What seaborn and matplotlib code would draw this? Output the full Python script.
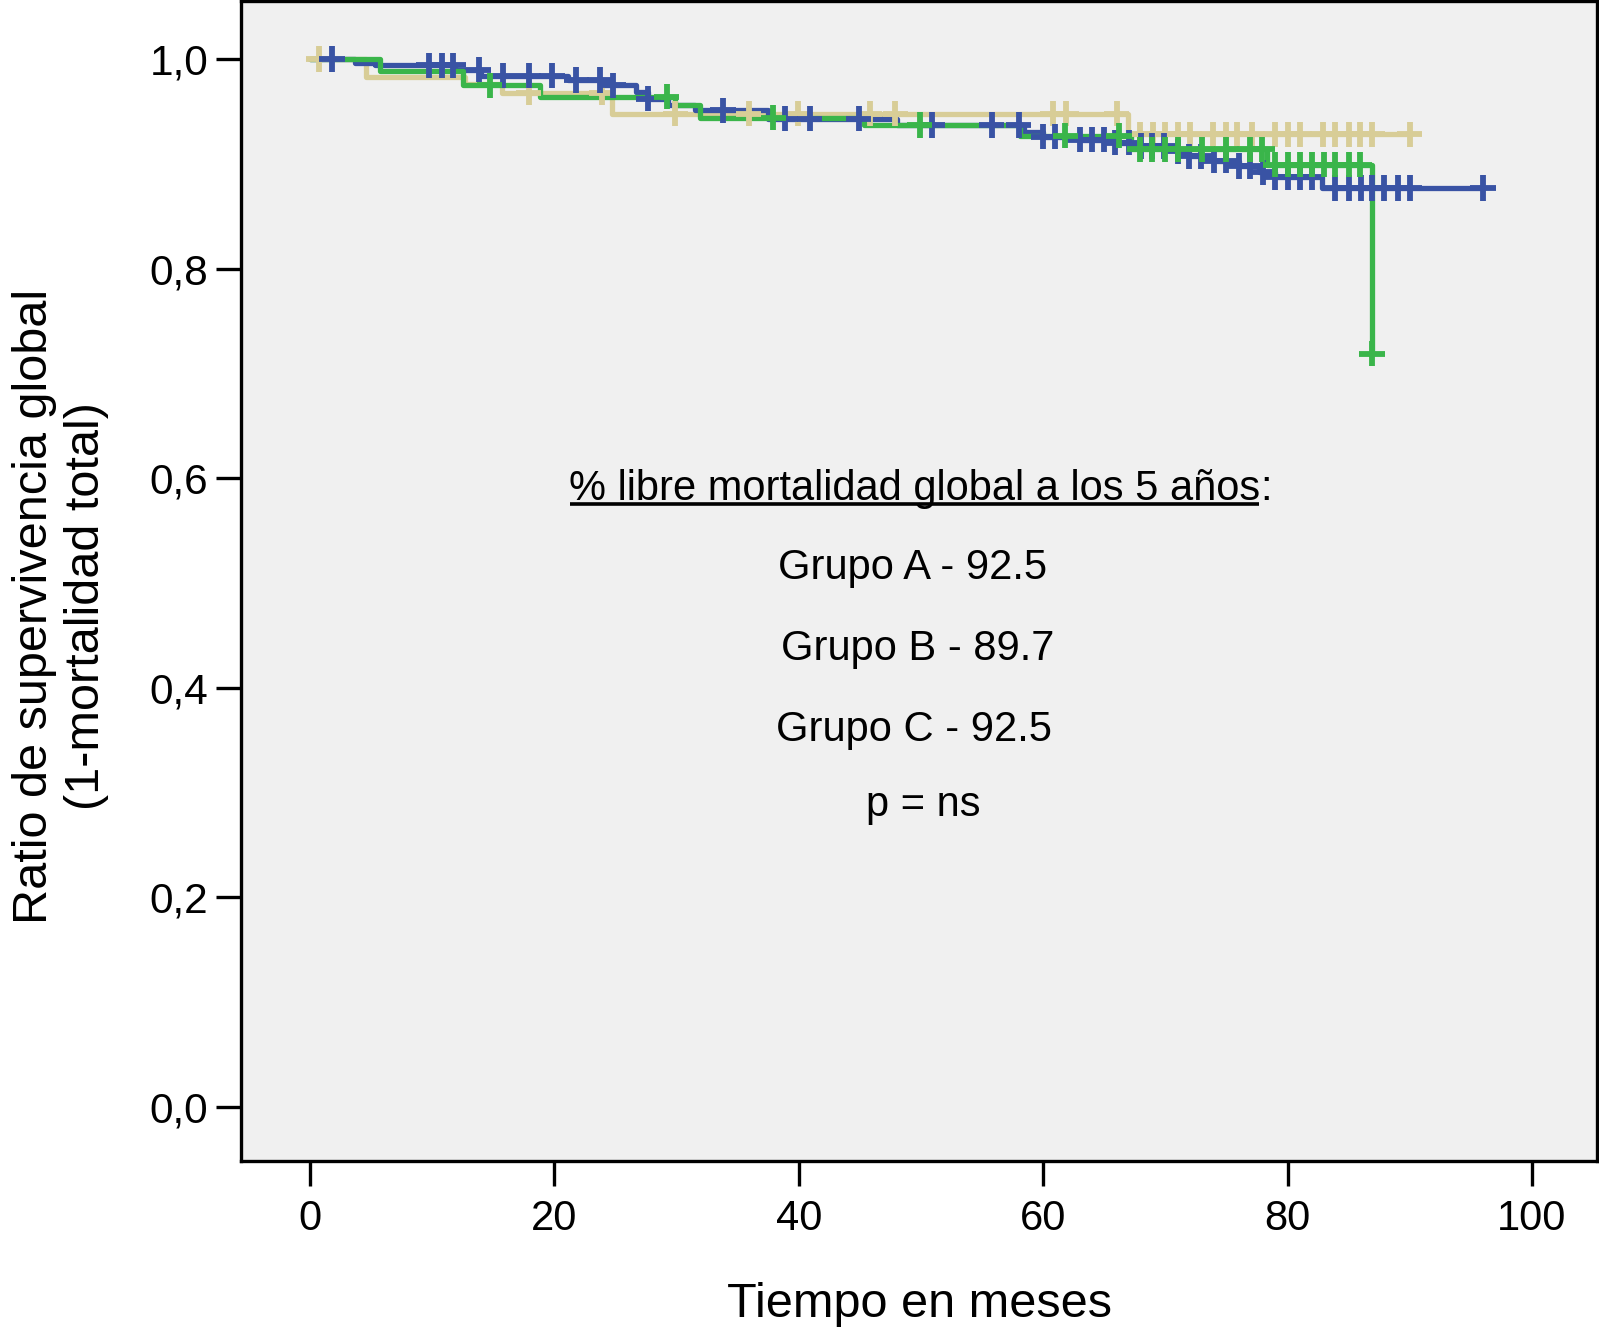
import numpy as np
import pandas as pd
import matplotlib
matplotlib.use("Agg")
import matplotlib.pyplot as plt
import seaborn as sns

# ---------------- data ----------------
groups = ["Grupo A", "Grupo B", "Grupo C"]
draw_order = ["Grupo C", "Grupo A", "Grupo B"]
colors = {"Grupo A": "#3953a4", "Grupo B": "#3ab54a", "Grupo C": "#d8cd97"}

# Grupo A (blue): event times (months) and survival after each step
a_times = [0, 3.7, 5.3, 11.9, 14.0, 21.1, 24.1, 26.7, 27.7, 29.3, 31.5, 37.5,
           48.0, 58.4, 60.0, 63.0, 65.9, 67.9, 70.9, 71.9, 73.9, 76.0, 77.7,
           79.0, 82.8]
a_surv = [1.0, 0.996, 0.994, 0.990, 0.984, 0.980, 0.975, 0.969, 0.962, 0.956,
          0.951, 0.943, 0.937, 0.930, 0.926, 0.923, 0.920, 0.917, 0.912, 0.907,
          0.903, 0.898, 0.892, 0.887, 0.877]
a_cens = [1.8, 9.7, 10.8, 11.7, 13.8, 15.8, 17.9, 19.8, 21.8, 23.7, 24.8, 27.7,
          33.8, 38.9, 40.9, 44.9, 50.9, 55.8, 58.0, 60.0, 61.0, 63.0, 64.0,
          65.0, 65.9, 67.0, 68.0, 68.9, 69.9, 71.0, 71.9, 72.9, 74.0, 75.0,
          76.0, 76.9, 78.0, 79.0, 80.0, 81.0, 82.0, 83.9, 85.0, 86.0, 86.9,
          87.9, 89.0, 90.0, 96.0]

# Grupo B (green)
b_times = [0, 5.7, 12.5, 18.8, 29.9, 31.9, 45.3, 58.1, 67.2, 78.3, 86.9]
b_surv = [1.0, 0.989, 0.975, 0.964, 0.956, 0.944, 0.937, 0.927, 0.914, 0.899,
          0.719]
b_cens = [14.7, 29.2, 37.9, 49.9, 61.8, 66.2, 67.9, 68.9, 70.0, 71.0, 73.0,
          75.0, 76.9, 77.9, 79.0, 80.0, 81.0, 82.0, 83.0, 83.9, 85.0, 85.9, 86.9]

# Grupo C (tan)
c_times = [0, 4.6, 12.7, 15.7, 24.7, 66.9]
c_surv = [1.0, 0.983, 0.976, 0.968, 0.948, 0.928]
c_cens = [0.7, 17.9, 23.9, 29.9, 35.9, 39.9, 45.8, 47.9, 60.8, 61.9, 66.0,
          67.9, 69.0, 70.0, 71.0, 72.0, 73.9, 75.0, 75.9, 77.1, 79.0, 80.0,
          81.0, 82.9, 83.9, 85.0, 85.9, 86.9, 90.0]

x_ticks = [0, 20, 40, 60, 80, 100]
x_tick_labels = ["0", "20", "40", "60", "80", "100"]
y_ticks = [0.0, 0.2, 0.4, 0.6, 0.8, 1.0]
y_tick_labels = ["0,0", "0,2", "0,4", "0,6", "0,8", "1,0"]

x_label = "Tiempo en meses"
y_label = "Ratio de supervivencia global\n(1-mortalidad total)"
ann_title = "% libre mortalidad global a los 5 años"
ann_lines = ["Grupo A - 92.5", "Grupo B - 89.7", "Grupo C - 92.5", "p = ns"]


def km_frames(name, times, surv, cens):
    t = list(times)
    s = list(surv)
    end = max(max(times), max(cens))
    if end > t[-1]:
        t.append(end)
        s.append(s[-1])
    lines = pd.DataFrame({"t": t, "s": s, "grupo": name})
    idx = np.searchsorted(np.asarray(times), np.asarray(cens), side="right") - 1
    marks = pd.DataFrame({"t": cens, "s": np.asarray(surv)[idx], "grupo": name})
    return lines, marks


series = {"Grupo A": (a_times, a_surv, a_cens),
          "Grupo B": (b_times, b_surv, b_cens),
          "Grupo C": (c_times, c_surv, c_cens)}
line_parts, mark_parts = [], []
for g in draw_order:
    l, m = km_frames(g, *series[g])
    line_parts.append(l)
    mark_parts.append(m)
lines_df = pd.concat(line_parts, ignore_index=True)
marks_df = pd.concat(mark_parts, ignore_index=True)

# ---------------- figure ----------------
sns.set_style("white")
plt.rcParams["font.family"] = ["Liberation Sans", "DejaVu Sans"]

fig = plt.figure(figsize=(15.99, 13.37), dpi=100)
fig.patch.set_facecolor("white")
ax = fig.add_axes([0.15072, 0.13201, 0.84803, 0.86687])
ax.set_facecolor("#f0f0f0")

sns.lineplot(data=lines_df, x="t", y="s", hue="grupo", hue_order=draw_order,
             palette=colors, estimator=None, sort=False, drawstyle="steps-post",
             linewidth=3.8, legend=False, ax=ax, zorder=2)
sns.scatterplot(data=marks_df, x="t", y="s", hue="grupo", hue_order=draw_order,
                palette=colors, marker="+", s=330, linewidth=4.2, legend=False,
                ax=ax, zorder=3)

ax.set_xlim(-5.646, 105.32)
ax.set_ylim(-0.0510, 1.0549)
ax.set_xticks(x_ticks)
ax.set_xticklabels(x_tick_labels)
ax.set_yticks(y_ticks)
ax.set_yticklabels(y_tick_labels)

for sp in ax.spines.values():
    sp.set_visible(True)
    sp.set_color("black")
    sp.set_linewidth(2.4)

ax.tick_params(axis="both", which="major", direction="out", length=18,
               width=2.4, color="black", labelcolor="black",
               bottom=True, left=True, top=False, right=False)
ax.tick_params(axis="x", pad=9.5, labelsize=30)
ax.tick_params(axis="y", pad=5.5, labelsize=30.5)

ax.set_xlabel(x_label, fontsize=35, labelpad=31, color="black")
ax.set_ylabel(y_label, fontsize=35, labelpad=29, color="black")
ax.yaxis.label.set_y(0.478)

# annotation block
title_x, title_y = 21.2, 0.579
t_main = ax.text(title_x, title_y, ann_title, fontsize=30, ha="left",
                 va="baseline", color="black")
line_pos = [(49.3, 0.504), (49.7, 0.4265), (49.4, 0.349), (50.2, 0.278)]
for txt, (xx, yy) in zip(ann_lines, line_pos):
    ax.text(xx, yy, txt, fontsize=30, ha="center", va="baseline", color="black")

fig.canvas.draw()
renderer = fig.canvas.get_renderer()
bb = t_main.get_window_extent(renderer)
base_disp = ax.transData.transform((title_x, title_y))[1]
inv = ax.transAxes.inverted()
x0a, ya = inv.transform((bb.x0 + 1, base_disp - 4))
x1a, _ = inv.transform((bb.x1 - 1, base_disp - 4))
ax.plot([x0a, x1a], [ya, ya], transform=ax.transAxes, color="black",
        linewidth=2.6, solid_capstyle="butt", zorder=4)
colon_x = ax.transData.inverted().transform((bb.x1, base_disp))[0]
ax.text(colon_x, title_y, ":", fontsize=30, ha="left", va="baseline",
        color="black")

fig.savefig("out.png", dpi=100, facecolor="white")
